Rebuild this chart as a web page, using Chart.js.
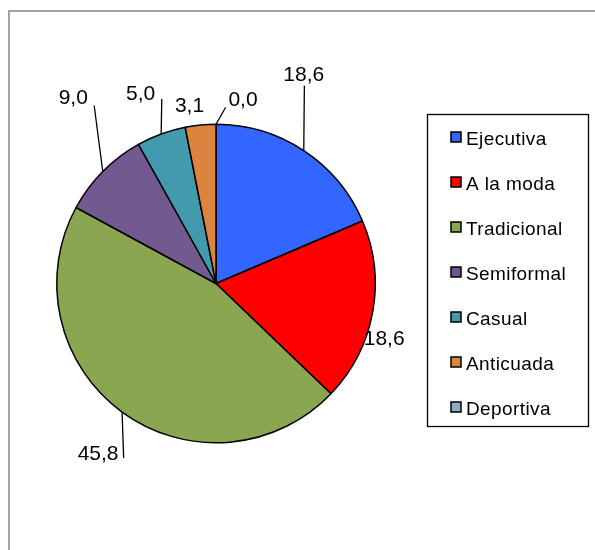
<!DOCTYPE html>
<html>
<head>
<meta charset="utf-8">
<script src="https://cdn.jsdelivr.net/npm/chart.js@4/dist/chart.umd.min.js"></script>
<style>
  html, body { margin: 0; padding: 0; background: #fff; overflow: hidden; }
  #frame { position: absolute; left: 8px; top: 10px; width: 620px; height: 600px; border: 2px solid #a3a3a3; }
  #pie { position: absolute; left: 0; top: 0; }
</style>
</head>
<body>
<div id="frame"></div>
<canvas id="pie" width="595" height="550"></canvas>
<script>
const categories = ['Ejecutiva', 'A la moda', 'Tradicional', 'Semiformal', 'Casual', 'Anticuada', 'Deportiva'];
const values = [18.6, 18.6, 45.8, 9.0, 5.0, 3.1, 0.0];
const colors = ['#3366FF', '#FF0000', '#8BA650', '#72598F', '#4399AE', '#DB843D', '#93A9CF'];

// where each value label sits, relative to the middle of its slice's outer edge
// text: [dx, dy] of the text baseline centre; leader: [dx, dy] end of the leader line or null
const labelPlaces = [
  { text: [0, -70], leader: [0.6, -65] },
  { text: [11.5, 33], leader: null },
  { text: [-24, 47.5], leader: [1.6, 46] },
  { text: [-29.5, -68], leader: [-8.6, -66] },
  { text: [-20.5, -34], leader: [0.6, -35] },
  { text: [-11, -13.5], leader: null },
  { text: [27, -18], leader: [9.7, -17] }
];

const FONT = '"Liberation Sans", Arial, sans-serif';

const valueLabels = {
  id: 'valueLabels',
  afterDatasetsDraw(chart) {
    const ctx = chart.ctx;
    const meta = chart.getDatasetMeta(0);
    ctx.save();
    ctx.font = '21px ' + FONT;
    ctx.fillStyle = '#000';
    ctx.strokeStyle = '#000';
    ctx.lineWidth = 1.3;
    ctx.textAlign = 'center';
    ctx.textBaseline = 'alphabetic';
    meta.data.forEach((arc, i) => {
      const p = arc.getProps(['x', 'y', 'startAngle', 'endAngle', 'outerRadius'], true);
      const mid = (p.startAngle + p.endAngle) / 2;
      const ax = p.x + Math.cos(mid) * p.outerRadius;
      const ay = p.y + Math.sin(mid) * p.outerRadius;
      const place = labelPlaces[i];
      if (place.leader) {
        ctx.beginPath();
        ctx.moveTo(ax, ay);
        ctx.lineTo(ax + place.leader[0], ay + place.leader[1]);
        ctx.stroke();
      }
      const txt = values[i].toFixed(1).replace('.', ',');
      ctx.fillText(txt, ax + place.text[0], ay + place.text[1]);
    });
    ctx.restore();
  }
};

const boxLegend = {
  id: 'boxLegend',
  afterDraw(chart) {
    const ctx = chart.ctx;
    const ds = chart.data.datasets[0];
    ctx.save();
    ctx.strokeStyle = '#000';
    ctx.lineWidth = 1.3;
    ctx.strokeRect(427.5, 114.5, 161, 312);
    ctx.font = '19px ' + FONT;
    ctx.letterSpacing = '0.4px';
    ctx.textBaseline = 'alphabetic';
    ctx.textAlign = 'left';
    chart.data.labels.forEach((lab, i) => {
      const y = 132 + i * 45;
      ctx.fillStyle = ds.backgroundColor[i];
      ctx.fillRect(451, y, 10, 10);
      ctx.lineWidth = 1.5;
      ctx.strokeRect(451, y, 10, 10);
      ctx.fillStyle = '#000';
      ctx.fillText(lab, 466, y + 13);
    });
    ctx.restore();
  }
};

new Chart(document.getElementById('pie'), {
  type: 'pie',
  data: {
    labels: categories,
    datasets: [{
      data: values,
      backgroundColor: colors,
      borderColor: '#000',
      borderWidth: 1.5
    }]
  },
  options: {
    responsive: false,
    animation: false,
    layout: { padding: { left: 56, right: 219, top: 123.5, bottom: 106.5 } },
    plugins: {
      legend: { display: false },
      tooltip: { enabled: false }
    }
  },
  plugins: [valueLabels, boxLegend]
});
</script>
</body>
</html>
